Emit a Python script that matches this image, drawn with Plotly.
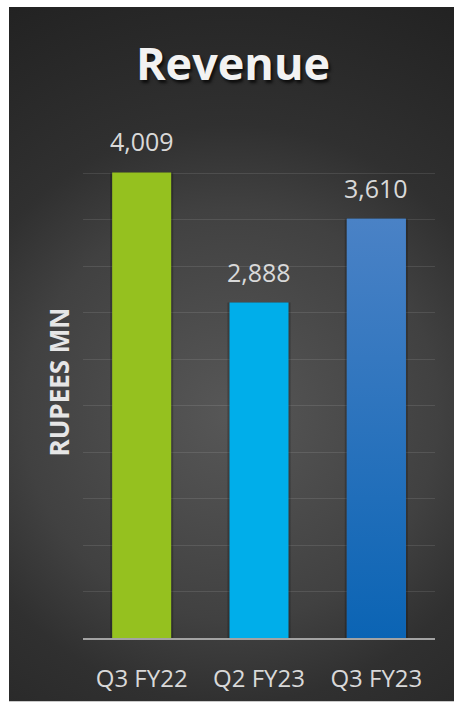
import base64
import plotly.graph_objects as go

# Quarterly revenue, rupees million
quarters = ["Q3 FY22", "Q2 FY23", "Q3 FY23"]
revenue = [4009, 2888, 3610]
bar_colors = ["#95c11f", "#00aeea", "#2b74be"]

y_max = 4400
y_step = 400
bar_width = 0.503

W, H = 454, 706
M_L, M_R, M_T, M_B = 83, 19, 127, 64
plot_w = W - M_L - M_R
plot_h = H - M_T - M_B

# dark panel with a soft radial glow, placed as a background image
panel_x0, panel_y0, panel_x1, panel_y1 = 9, 6, 454, 706
pw, ph = panel_x1 - panel_x0, panel_y1 - panel_y0
svg = f"""<svg xmlns='http://www.w3.org/2000/svg' width='{pw}' height='{ph}' viewBox='0 0 {pw} {ph}' preserveAspectRatio='none'>
<defs><radialGradient id='g' gradientUnits='userSpaceOnUse' cx='222' cy='410' r='470'>
<stop offset='0' stop-color='#575757'/>
<stop offset='0.44' stop-color='#414141'/>
<stop offset='0.62' stop-color='#303030'/>
<stop offset='1' stop-color='#222222'/>
</radialGradient></defs>
<rect x='0' y='0' width='{pw}' height='{ph}' fill='url(#g)'/>
</svg>"""
svg_uri = "data:image/svg+xml;base64," + base64.b64encode(svg.encode()).decode()


def px_to_paper_x(px):
    return (px - M_L) / plot_w


def px_to_paper_y(py):
    return (H - M_B - py) / plot_h


x_idx = list(range(len(quarters)))

fig = go.Figure()

# soft drop shadow behind each bar
fig.add_trace(go.Bar(
    x=x_idx, y=revenue, width=bar_width + 0.035,
    marker=dict(color="rgba(0,0,0,0.22)", line=dict(width=0)),
    hoverinfo="skip",
))
fig.add_trace(go.Bar(
    x=x_idx, y=revenue, width=bar_width,
    marker=dict(color=bar_colors, line=dict(width=0)),
    hoverinfo="skip",
))

# vertical colour blend on the last bar
i_last = x_idx[-1]
v_last = revenue[-1]
fig.add_trace(go.Scatter(
    x=[i_last - bar_width / 2, i_last + bar_width / 2, i_last + bar_width / 2,
       i_last - bar_width / 2, i_last - bar_width / 2],
    y=[0, 0, v_last, v_last, 0],
    mode="lines", line=dict(width=0), fill="toself",
    fillgradient=dict(type="vertical",
                      colorscale=[[0, "#0b64b4"], [1, "#4a82c6"]]),
    hoverinfo="skip", showlegend=False,
))

for i, v in zip(x_idx, revenue):
    fig.add_annotation(
        x=i, y=v, text=f"{v:,}", showarrow=False,
        yanchor="bottom", yshift=12,
        font=dict(family="Open Sans", size=25, color="#d9d9d9"),
    )

fig.add_annotation(
    x=px_to_paper_x(58), y=0.5, xref="paper", yref="paper",
    text="<b>RUPEES MN</b>", textangle=-90, showarrow=False,
    xanchor="center", yanchor="middle",
    font=dict(family="Open Sans", size=26, color="#e6e6e6"),
)

fig.update_layout(
    width=W, height=H,
    margin=dict(l=M_L, r=M_R, t=M_T, b=M_B),
    paper_bgcolor="white",
    plot_bgcolor="rgba(0,0,0,0)",
    showlegend=False,
    barmode="overlay",
    title=dict(
        text="<b>Revenue</b>", xref="container", yref="container",
        x=233 / W, xanchor="center", y=1 - 64 / H, yanchor="middle",
        font=dict(family="Open Sans", size=45, color="#f2f2f2",
                  shadow="2px 3px 3px rgba(0,0,0,0.7)"),
    ),
    images=[dict(
        source=svg_uri, xref="paper", yref="paper",
        x=px_to_paper_x(panel_x0), y=px_to_paper_y(panel_y0),
        sizex=pw / plot_w, sizey=ph / plot_h,
        xanchor="left", yanchor="top", sizing="stretch", layer="below",
    )],
    xaxis=dict(
        range=[-0.5, len(quarters) - 0.5],
        tickvals=x_idx, ticktext=quarters,
        showgrid=False, zeroline=False,
        showline=True, linecolor="#a3a3a3", linewidth=2,
        ticks="outside", ticklen=18, tickcolor="rgba(0,0,0,0)",
        tickfont=dict(family="Open Sans", size=24, color="#d9d9d9"),
    ),
    yaxis=dict(
        range=[0, y_max], dtick=y_step,
        showgrid=True, gridcolor="rgba(255,255,255,0.10)", gridwidth=1,
        zeroline=False, showticklabels=False, showline=False,
    ),
)

fig.write_html("out.html")
